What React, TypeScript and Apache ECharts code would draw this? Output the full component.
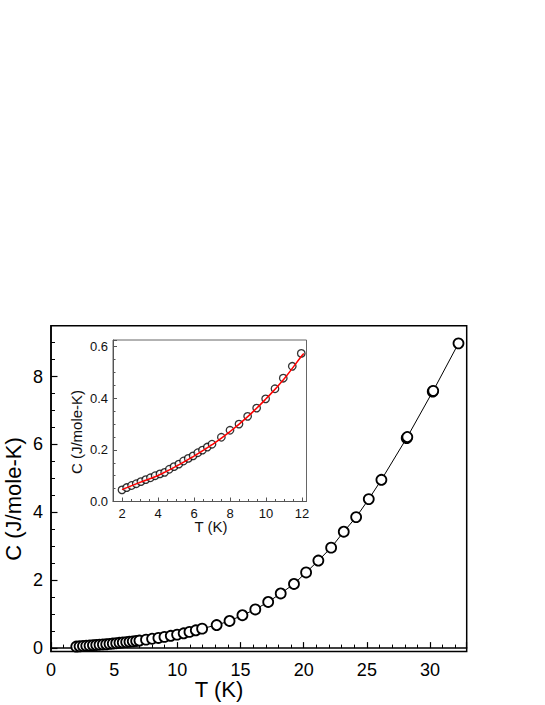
import React, { useEffect, useRef } from 'react';
import * as echarts from 'echarts';

// Low-temperature data (shown in both the inset and the main panel)
const lowT = [2.00, 2.26, 2.53, 2.79, 3.05, 3.32, 3.58, 3.84, 4.11, 4.37, 4.63, 4.89, 5.16, 5.42, 5.68, 5.95, 6.21, 6.47, 6.74, 7.00, 7.52, 8.00, 8.50, 8.98, 9.48, 9.98, 10.50, 10.96, 11.46, 11.96];
const lowC = [0.045, 0.054, 0.062, 0.069, 0.077, 0.085, 0.092, 0.100, 0.107, 0.113, 0.125, 0.135, 0.145, 0.157, 0.167, 0.177, 0.189, 0.199, 0.211, 0.222, 0.249, 0.276, 0.300, 0.330, 0.362, 0.398, 0.437, 0.478, 0.524, 0.574];

// High-temperature data (main panel only)
const highT = [13.11, 14.13, 15.15, 16.17, 17.19, 18.18, 19.23, 20.19, 21.16, 22.17, 23.17, 24.15, 25.15, 26.15, 28.15, 28.20, 30.21, 30.25, 32.25];
const highC = [0.68, 0.80, 0.97, 1.14, 1.36, 1.61, 1.89, 2.23, 2.58, 2.96, 3.43, 3.86, 4.39, 4.96, 6.19, 6.22, 7.56, 7.58, 8.98];

// Red fit curve in the inset
const fitT = [2.0, 3.0, 4.0, 5.0, 6.0, 7.0, 8.0, 9.0, 10.0, 11.0, 12.0, 12.1];
const fitC = [0.046, 0.074, 0.101, 0.136, 0.176, 0.220, 0.271, 0.330, 0.398, 0.475, 0.566, 0.574];

// Tick positions
const mainYMajor = [0, 2, 4, 6, 8];
const mainYMinor = [0.5, 1, 1.5, 2.5, 3, 3.5, 4.5, 5, 5.5, 6.5, 7, 7.5, 8.5, 9];
const insetXMajor = [2, 4, 6, 8, 10, 12];
const insetXMinor = [1.5, 2.5, 3, 3.5, 4.5, 5, 5.5, 6.5, 7, 7.5, 8.5, 9, 9.5, 10.5, 11, 11.5];

const FONT = "'Liberation Sans', Arial, Helvetica, sans-serif";

export default function App() {
  const ref = useRef<HTMLDivElement>(null);
  useEffect(() => {
    if (!ref.current) return;
    const chart = echarts.init(ref.current, undefined, { renderer: 'svg' });
    const mainData = lowT.map((t, i) => [t, lowC[i]]).concat(highT.map((t, i) => [t, highC[i]]));
    const insetData = lowT.map((t, i) => [t, lowC[i]]);
    const fitData = fitT.map((t, i) => [t, fitC[i]]);
    const insetGray = '#555';

    chart.setOption({
      animation: false,
      backgroundColor: '#fff',
      textStyle: { fontFamily: FONT },
      grid: [
        { left: 51, top: 325.7, right: 78.3, bottom: 53.5, show: true, borderColor: '#000', borderWidth: 1.5, outerBoundsMode: 'none' },
        { left: 113, top: 340, width: 193.5, height: 161.5, show: true, borderColor: '#666', borderWidth: 1, backgroundColor: '#fff', outerBoundsMode: 'none' },
      ],
      xAxis: [
        {
          gridIndex: 0, type: 'value', position: 'bottom', min: 0, max: 32.9, interval: 5,
          axisLine: { show: true, lineStyle: { color: '#000', width: 1.5 } },
          axisTick: { show: true, inside: true, length: 6, lineStyle: { color: '#000', width: 1.2 } },
          minorTick: { show: true, splitNumber: 5, length: 3.5, lineStyle: { color: '#000', width: 1 } },
          axisLabel: { color: '#000', fontSize: 18, fontFamily: FONT, margin: 9, showMaxLabel: false },
          splitLine: { show: false }, minorSplitLine: { show: false },
        },
        {
          gridIndex: 1, type: 'value', position: 'bottom', min: 1.5, max: 12.25,
          axisLine: { show: true, lineStyle: { color: insetGray, width: 1 } },
          axisTick: { show: true, inside: true, length: 4, customValues: insetXMajor, lineStyle: { color: insetGray, width: 1 } },
          axisLabel: { color: '#111', fontSize: 13, fontFamily: FONT, margin: 5, customValues: insetXMajor },
          splitLine: { show: false },
        },
        {
          gridIndex: 1, type: 'value', position: 'bottom', min: 1.5, max: 12.25,
          axisLine: { show: false },
          axisTick: { show: true, inside: true, length: 2.5, customValues: insetXMinor, lineStyle: { color: insetGray, width: 1 } },
          axisLabel: { show: false },
          splitLine: { show: false },
        },
      ],
      yAxis: [
        {
          gridIndex: 0, type: 'value', position: 'left', min: -0.1, max: 9.5,
          axisLine: { show: true, lineStyle: { color: '#000', width: 1.5 } },
          axisTick: { show: true, inside: true, length: 6.5, customValues: mainYMajor, lineStyle: { color: '#000', width: 1.2 } },
          axisLabel: { color: '#000', fontSize: 18, fontFamily: FONT, margin: 8, customValues: mainYMajor },
          splitLine: { show: false },
        },
        {
          gridIndex: 0, type: 'value', position: 'left', min: -0.1, max: 9.5,
          axisLine: { show: false },
          axisTick: { show: true, inside: true, length: 4, customValues: mainYMinor, lineStyle: { color: '#000', width: 1 } },
          axisLabel: { show: false },
          splitLine: { show: false },
        },
        {
          gridIndex: 1, type: 'value', position: 'left', min: 0, max: 0.626, interval: 0.2,
          axisLine: { show: true, lineStyle: { color: insetGray, width: 1 } },
          axisTick: { show: true, inside: true, length: 4, lineStyle: { color: insetGray, width: 1 } },
          minorTick: { show: true, splitNumber: 4, length: 2.5, lineStyle: { color: insetGray, width: 1 } },
          axisLabel: { color: '#111', fontSize: 13, fontFamily: FONT, margin: 5, formatter: (v: number) => v.toFixed(1) },
          splitLine: { show: false }, minorSplitLine: { show: false },
        },
      ],
      series: [
        {
          type: 'line', xAxisIndex: 0, yAxisIndex: 0, data: mainData,
          symbol: 'circle', symbolSize: 10,
          itemStyle: { color: '#fff', borderColor: '#000', borderWidth: 1.8 },
          lineStyle: { color: '#000', width: 1 },
          emphasis: { disabled: true },
        },
        {
          type: 'scatter', xAxisIndex: 1, yAxisIndex: 2, data: insetData,
          symbol: 'circle', symbolSize: 7.5,
          itemStyle: { color: '#fff', borderColor: '#000', borderWidth: 1.3 },
          emphasis: { disabled: true }, z: 3,
        },
        {
          type: 'line', xAxisIndex: 1, yAxisIndex: 2, data: fitData,
          smooth: true, showSymbol: false, symbol: 'none',
          lineStyle: { color: '#ff0000', width: 1.5 },
          emphasis: { disabled: true }, z: 4,
        },
      ],
      graphic: [
        { type: 'text', x: 219, y: 689, style: { text: 'T (K)', fontSize: 22, fontFamily: FONT, fill: '#000', align: 'center', verticalAlign: 'middle' } },
        { type: 'text', x: 13, y: 499, rotation: Math.PI / 2, style: { text: 'C (J/mole-K)', fontSize: 22, fontFamily: FONT, fill: '#000', align: 'center', verticalAlign: 'middle' } },
        { type: 'text', x: 211, y: 526, style: { text: 'T (K)', fontSize: 15, fontFamily: FONT, fill: '#111', align: 'center', verticalAlign: 'middle' } },
        { type: 'text', x: 76, y: 432, rotation: Math.PI / 2, style: { text: 'C (J/mole-K)', fontSize: 15, fontFamily: FONT, fill: '#111', align: 'center', verticalAlign: 'middle' } },
      ],
    });
    return () => chart.dispose();
  }, []);
  return <div ref={ref} style={{ position: 'absolute', left: 0, top: 0, width: 545, height: 705 }} />;
}
